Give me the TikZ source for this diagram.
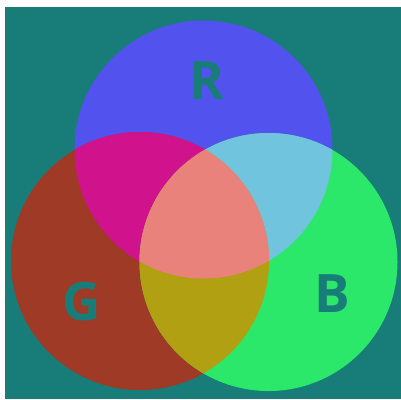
\documentclass[tikz,border=0pt]{standalone}
\usepackage{fontspec}
\setmainfont{Open Sans}
\usepackage{tikz}
\definecolor{bgteal}{RGB}{24,125,120}
\definecolor{rblue}{RGB}{82,82,238}
\definecolor{gred}{RGB}{158,58,38}
\definecolor{bgreen}{RGB}{44,232,106}
\definecolor{rgmag}{RGB}{208,18,140}
\definecolor{rbcyan}{RGB}{112,196,222}
\definecolor{gbolive}{RGB}{176,160,18}
\definecolor{allpink}{RGB}{232,130,122}
\tikzset{
  letter/.style={font=\fontsize{53}{53}\selectfont\bfseries,text=bgteal,inner sep=0pt}
}

\begin{document}
\begin{tikzpicture}[x=1pt,y=-1pt]
  % Frame
  \useasboundingbox (0,0) rectangle (401,399);
  \fill[white] (0,0) rectangle (401,399);
  \fill[bgteal] (5,7) rectangle (401,399);
  % Centres
  \coordinate (cR) at (203.5,149.5);
  \coordinate (cG) at (140,261);
  \coordinate (cB) at (268.5,262);
  \def\rad{129}
  % Single circles
  \fill[rblue] (cR) circle (\rad);
  \fill[gred] (cG) circle (\rad);
  \fill[bgreen] (cB) circle (\rad);
  % Pairwise overlaps
  \begin{scope}
    \clip (cR) circle (\rad);
    \fill[rgmag] (cG) circle (\rad);
    \fill[rbcyan] (cB) circle (\rad);
  \end{scope}
  \begin{scope}
    \clip (cG) circle (\rad);
    \fill[gbolive] (cB) circle (\rad);
  \end{scope}
  % Triple overlap
  \begin{scope}
    \clip (cR) circle (\rad);
    \clip (cG) circle (\rad);
    \fill[allpink] (cB) circle (\rad);
  \end{scope}
  % Letters
  \node[letter] (labR) at (207,81) {R};
  \node[letter] (labG) at (82,302) {G};
  \node[letter] (labB) at (332,294) {B};
\end{tikzpicture}
\end{document}
